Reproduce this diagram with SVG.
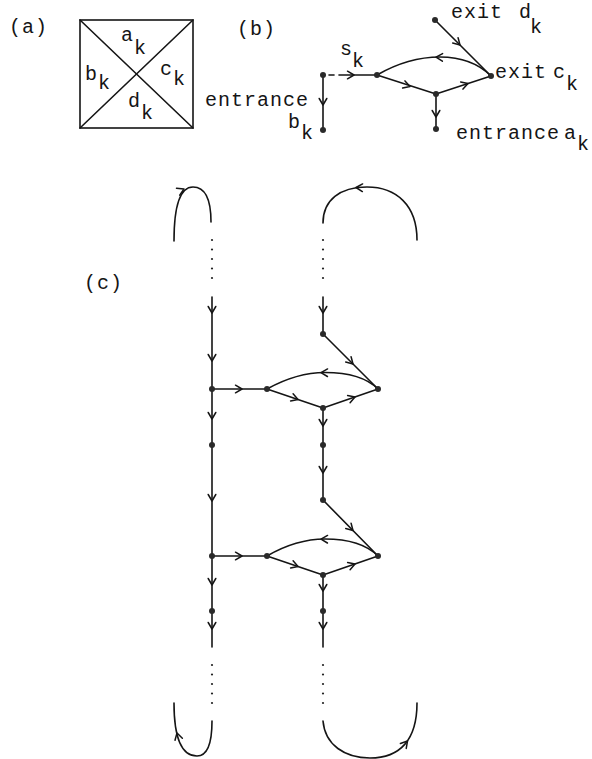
<svg xmlns="http://www.w3.org/2000/svg" xmlns:xlink="http://www.w3.org/1999/xlink" width="592" height="759" viewBox="0 0 592 759">
<style>
  .ln { fill: none; stroke: #151515; stroke-width: 1.6; stroke-linecap: round; }
  .dot { fill: #2a2a2a; }
  .dt { fill: #222; }
  .t { font-family: "Liberation Mono", "DejaVu Sans Mono", monospace; font-size: 20px; fill: #151515; letter-spacing: 1px; }
</style>
<defs>
  <path id="ah" d="M -6.5 -3.8 L 0 0 L -6.5 3.8" fill="none" stroke="#151515" stroke-width="1.5" stroke-linecap="round" stroke-linejoin="round"/>
</defs>
<rect width="592" height="759" fill="#ffffff"/>

<!-- (a) -->
<g id="panel-a">
  <text class="t" x="9" y="33">(a)</text>
  <rect x="80" y="20" width="113" height="108" class="ln"/>
  <line x1="80" y1="20" x2="193" y2="128" class="ln"/>
  <line x1="193" y1="20" x2="80" y2="128" class="ln"/>
  <text class="t" x="121" y="41">a<tspan x="134" y="54">k</tspan></text>
  <text class="t" x="85" y="80">b<tspan x="98" y="89">k</tspan></text>
  <text class="t" x="160" y="75">c<tspan x="173" y="85">k</tspan></text>
  <text class="t" x="128" y="107">d<tspan x="141" y="119">k</tspan></text>
</g>

<!-- (b) -->
<text class="t" x="237" y="35">(b)</text>
<g id="b-connectors">
  <line x1="323" y1="75" x2="323" y2="130" class="ln"/>
  <use xlink:href="#ah" transform="translate(323 105) rotate(90)"/>
  <line x1="329" y1="75" x2="334" y2="75" class="ln"/>
  <line x1="339" y1="75" x2="377" y2="75" class="ln"/>
  <use xlink:href="#ah" transform="translate(354 75)"/>
  <line x1="377" y1="75" x2="436" y2="94" class="ln"/>
  <use xlink:href="#ah" transform="translate(410 86.5) rotate(18)"/>
  <line x1="436" y1="94" x2="491" y2="76" class="ln"/>
  <use xlink:href="#ah" transform="translate(468 83.5) rotate(-18)"/>
  <path d="M 491 76 C 478 63, 461 57, 440 57 C 418 57, 396 64, 377 75" class="ln"/>
  <use xlink:href="#ah" transform="translate(436 57.2) rotate(182)"/>
  <line x1="435" y1="20" x2="491" y2="76" class="ln"/>
  <use xlink:href="#ah" transform="translate(460 45) rotate(45)"/>
  <line x1="436" y1="94" x2="436" y2="129" class="ln"/>
  <use xlink:href="#ah" transform="translate(436 117) rotate(90)"/>
</g>
<g id="b-start">
  <circle cx="323" cy="75" r="3" class="dot"/>
  <text class="t" x="340" y="55">s<tspan x="352" y="67">k</tspan></text>
</g>
<g id="b-entrance-b">
  <circle cx="323" cy="130" r="3" class="dot"/>
  <text class="t" x="205" y="106">entrance</text>
  <text class="t" x="288" y="128">b<tspan x="301" y="139">k</tspan></text>
</g>
<g id="b-s">
  <circle cx="377" cy="75" r="3" class="dot"/>
</g>
<g id="b-m">
  <circle cx="436" cy="94" r="3" class="dot"/>
</g>
<g id="b-exit-d">
  <circle cx="435" cy="20" r="3" class="dot"/>
  <text class="t" x="451" y="18">exit<tspan x="519" y="18">d</tspan><tspan x="530" y="33">k</tspan></text>
</g>
<g id="b-exit-c">
  <circle cx="491" cy="76" r="3" class="dot"/>
  <text class="t" x="495" y="78">exit<tspan x="553" y="78">c</tspan><tspan x="566" y="90">k</tspan></text>
</g>
<g id="b-entrance-a">
  <circle cx="436" cy="129" r="3" class="dot"/>
  <text class="t" x="456" y="139">entrance<tspan x="564" y="139">a</tspan><tspan x="577" y="150">k</tspan></text>
</g>

<!-- (c) -->
<text class="t" x="84" y="289">(c)</text>
<g id="c-connectors">
  <!-- top loops -->
  <path d="M 174 241 C 174 205, 180 187, 193 187 C 205 187, 211 200, 211 222" class="ln"/>
  <use xlink:href="#ah" transform="translate(184 189) rotate(-25)"/>
  <path d="M 323 223 C 323 200, 340 187, 367 187 C 396 187, 417 205, 417 240" class="ln"/>
  <use xlink:href="#ah" transform="translate(356 187.5) rotate(182)"/>
  <!-- dotted continuation -->
  <g class="dt">
    <circle cx="212" cy="240" r="1.1"/><circle cx="212" cy="249.5" r="1.1"/><circle cx="212" cy="259" r="1.1"/><circle cx="212" cy="268.5" r="1.1"/><circle cx="212" cy="278" r="1.1"/>
    <circle cx="323" cy="240" r="1.1"/><circle cx="323" cy="249.5" r="1.1"/><circle cx="323" cy="259" r="1.1"/><circle cx="323" cy="268.5" r="1.1"/><circle cx="323" cy="278" r="1.1"/>
    <circle cx="212" cy="665" r="1.1"/><circle cx="212" cy="674.5" r="1.1"/><circle cx="212" cy="684" r="1.1"/><circle cx="212" cy="693.5" r="1.1"/><circle cx="212" cy="703" r="1.1"/>
    <circle cx="323" cy="665" r="1.1"/><circle cx="323" cy="674.5" r="1.1"/><circle cx="323" cy="684" r="1.1"/><circle cx="323" cy="693.5" r="1.1"/><circle cx="323" cy="703" r="1.1"/>
  </g>
  <!-- left column -->
  <line x1="212" y1="297" x2="212" y2="647" class="ln"/>
  <use xlink:href="#ah" transform="translate(212 313) rotate(90)"/>
  <use xlink:href="#ah" transform="translate(212 361) rotate(90)"/>
  <use xlink:href="#ah" transform="translate(212 419) rotate(90)"/>
  <use xlink:href="#ah" transform="translate(212 501) rotate(90)"/>
  <use xlink:href="#ah" transform="translate(212 585) rotate(90)"/>
  <use xlink:href="#ah" transform="translate(212 629) rotate(90)"/>
  <!-- right column -->
  <line x1="323" y1="297" x2="323" y2="334" class="ln"/>
  <use xlink:href="#ah" transform="translate(323 313) rotate(90)"/>
  <!-- gadget 1 -->
  <line x1="323" y1="334" x2="378" y2="389" class="ln"/>
  <use xlink:href="#ah" transform="translate(353 364) rotate(45)"/>
  <line x1="212" y1="389" x2="267" y2="389" class="ln"/>
  <use xlink:href="#ah" transform="translate(242 389)"/>
  <path d="M 378 389 C 366 377, 346 372.5, 325 372.5 C 305 372.5, 285 379, 267 389" class="ln"/>
  <use xlink:href="#ah" transform="translate(321 372.6) rotate(181)"/>
  <line x1="267" y1="389" x2="323" y2="408" class="ln"/>
  <use xlink:href="#ah" transform="translate(298 399.5) rotate(19)"/>
  <line x1="323" y1="408" x2="378" y2="389" class="ln"/>
  <use xlink:href="#ah" transform="translate(355 397) rotate(-19)"/>
  <line x1="323" y1="408" x2="323" y2="500" class="ln"/>
  <use xlink:href="#ah" transform="translate(323 426) rotate(90)"/>
  <use xlink:href="#ah" transform="translate(323 473) rotate(90)"/>
  <!-- gadget 2 -->
  <line x1="323" y1="500" x2="378" y2="556" class="ln"/>
  <use xlink:href="#ah" transform="translate(353 530.5) rotate(45)"/>
  <line x1="212" y1="556" x2="267" y2="556" class="ln"/>
  <use xlink:href="#ah" transform="translate(242 556)"/>
  <path d="M 378 556 C 366 544, 346 539, 325 539 C 305 539, 285 545.5, 267 556" class="ln"/>
  <use xlink:href="#ah" transform="translate(321 539.1) rotate(181)"/>
  <line x1="267" y1="556" x2="323" y2="575" class="ln"/>
  <use xlink:href="#ah" transform="translate(298 566.5) rotate(19)"/>
  <line x1="323" y1="575" x2="378" y2="556" class="ln"/>
  <use xlink:href="#ah" transform="translate(355 564) rotate(-19)"/>
  <line x1="323" y1="575" x2="323" y2="647" class="ln"/>
  <use xlink:href="#ah" transform="translate(323 591) rotate(90)"/>
  <use xlink:href="#ah" transform="translate(323 629) rotate(90)"/>
  <!-- bottom loops -->
  <path d="M 212 721 C 212 745, 207 756, 197 756 C 183 756, 174 740, 174 703" class="ln"/>
  <use xlink:href="#ah" transform="translate(177 733) rotate(-105)"/>
  <path d="M 323 721 C 325 745, 345 758, 370 758 C 400 758, 417 740, 417 703" class="ln"/>
  <use xlink:href="#ah" transform="translate(407.5 741) rotate(-50)"/>
</g>
<g id="c-L1"><circle cx="212" cy="389" r="3" class="dot"/></g>
<g id="c-L2"><circle cx="212" cy="445" r="3" class="dot"/></g>
<g id="c-L3"><circle cx="212" cy="556" r="3" class="dot"/></g>
<g id="c-L4"><circle cx="212" cy="611" r="3" class="dot"/></g>
<g id="c-R1"><circle cx="323" cy="334" r="3" class="dot"/></g>
<g id="c-S1"><circle cx="267" cy="389" r="3" class="dot"/></g>
<g id="c-C1"><circle cx="378" cy="389" r="3" class="dot"/></g>
<g id="c-M1"><circle cx="323" cy="408" r="3" class="dot"/></g>
<g id="c-N1"><circle cx="323" cy="445" r="3" class="dot"/></g>
<g id="c-R2"><circle cx="323" cy="500" r="3" class="dot"/></g>
<g id="c-S2"><circle cx="267" cy="556" r="3" class="dot"/></g>
<g id="c-C2"><circle cx="378" cy="556" r="3" class="dot"/></g>
<g id="c-M2"><circle cx="323" cy="575" r="3" class="dot"/></g>
<g id="c-N2"><circle cx="323" cy="611" r="3" class="dot"/></g>
</svg>
